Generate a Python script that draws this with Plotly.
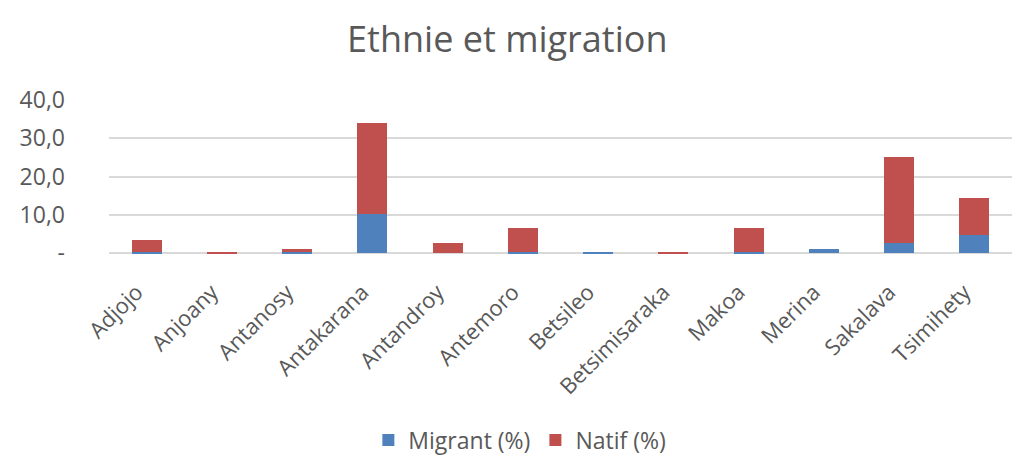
import plotly.graph_objects as go

categories = ["Adjojo", "Anjoany", "Antanosy", "Antakarana", "Antandroy", "Antemoro",
              "Betsileo", "Betsimisaraka", "Makoa", "Merina", "Sakalava", "Tsimihety"]
migrant = [0.5, 0.0, 0.4, 10.2, 0.0, 0.4, 0.5, 0.0, 0.4, 1.2, 2.6, 4.8]
natif = [3.0, 0.4, 0.8, 23.7, 2.6, 6.2, 0.0, 0.4, 6.2, 0.0, 22.6, 9.5]
y_ticks = [0, 10, 20, 30, 40]
y_tick_labels = ["-", "10,0", "20,0", "30,0", "40,0"]

font_family = "Open Sans, Noto Sans, sans-serif"
gray = "#595959"

fig = go.Figure()
fig.add_trace(go.Bar(x=categories, y=migrant, name="Migrant (%)",
                     marker=dict(color="#4F81BD", line=dict(width=0))))
fig.add_trace(go.Bar(x=categories, y=natif, name="Natif (%)",
                     marker=dict(color="#C0504D", line=dict(width=0))))

fig.update_layout(
    barmode="stack",
    bargap=0.6,
    width=1019, height=468,
    paper_bgcolor="white", plot_bgcolor="white",
    margin=dict(l=92, r=15, t=91, b=222),
    title=dict(text="Ethnie et migration", x=0.49, xanchor="center", y=0.932, yanchor="middle",
               font=dict(family=font_family, size=36, color=gray)),
    font=dict(family=font_family, color=gray),
    legend=dict(orientation="h", x=0.455, xanchor="center", y=-1.20, yanchor="middle",
                font=dict(size=23, color=gray), traceorder="normal", itemwidth=30),
    xaxis=dict(tickangle=-45, tickfont=dict(size=22, color=gray), showgrid=False,
               showline=False, ticks="", ticklabelstandoff=20, ticklabelshift=-10),
    yaxis=dict(range=[-0.15, 40.15], tickvals=y_ticks, ticktext=y_tick_labels,
               tickfont=dict(size=23, color=gray), gridcolor="#D9D9D9", gridwidth=1.5,
               zeroline=True, zerolinecolor="#D9D9D9", zerolinewidth=1.5,
               showline=False, ticks="", ticklabelstandoff=43),
)

fig.write_html("out.html")
